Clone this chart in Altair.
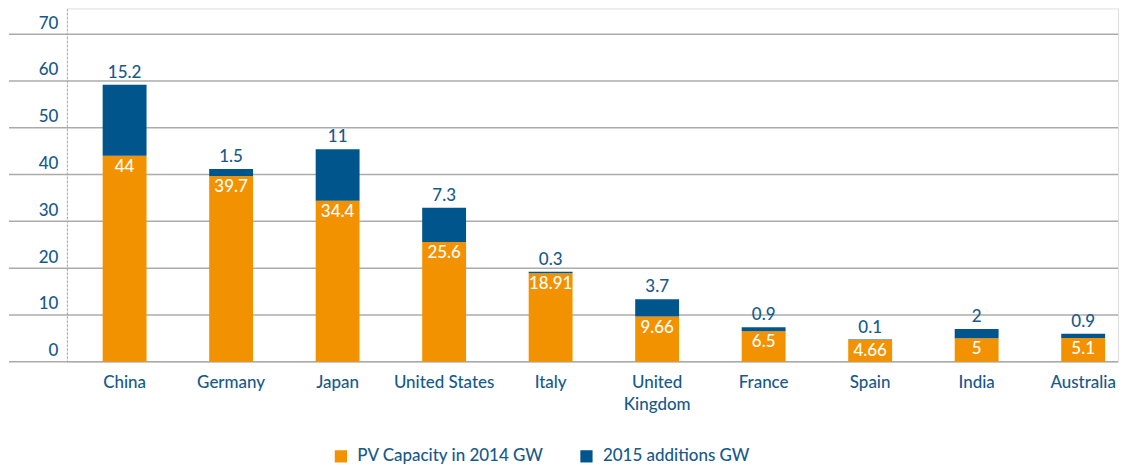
import altair as alt
import pandas as pd

countries = ["China", "Germany", "Japan", "United States", "Italy",
             "United Kingdom", "France", "Spain", "India", "Australia"]
pv_2014 = [44, 39.7, 34.4, 25.6, 18.91, 9.66, 6.5, 4.66, 5, 5.1]
add_2015 = [15.2, 1.5, 11, 7.3, 0.3, 3.7, 0.9, 0.1, 2, 0.9]
y_ticks = [0, 10, 20, 30, 40, 50, 60, 70]
series = ["PV Capacity in 2014 GW", "2015 additions GW"]

ORANGE = "#F39200"
BLUE = "#00558C"
TEXT = "#17598C"
FONT = "Lato"
WEIGHT = 500
FS = 17

W = 1053
H = 354

df = pd.DataFrame({
    "country": countries,
    "base": pv_2014,
    "add": add_2015,
    "total": [a + b for a, b in zip(pv_2014, add_2015)],
    "base_lbl": [str(v) for v in pv_2014],
    "add_lbl": [str(v) for v in add_2015],
    "s_base": [series[0]] * len(countries),
    "s_add": [series[1]] * len(countries),
})
grid_df = pd.DataFrame({"v": y_ticks})

x_enc = alt.X(
    "country:N", sort=countries, title=None,
    scale=alt.Scale(paddingInner=0.588, paddingOuter=0.2285, align=0.735),
    axis=alt.Axis(
        labelAngle=0, domain=False, ticks=False, labelPadding=13,
        labelFontSize=FS, labelColor=TEXT, labelFont=FONT, labelFontWeight=WEIGHT,
        labelLineHeight=22,
        labelExpr="datum.label == 'United Kingdom' ? ['United', 'Kingdom'] : datum.label",
    ),
)
y_scale = alt.Scale(domain=[0, 75.5], nice=False, zero=True)
color_scale = alt.Scale(domain=series, range=[ORANGE, BLUE])
legend = alt.Legend(
    title=None, orient="none", direction="horizontal", legendX=266, legendY=440,
    symbolType="square", symbolSize=150, symbolStrokeWidth=0, symbolOpacity=1,
    labelFontSize=FS, labelColor=TEXT, labelFont=FONT, labelFontWeight=WEIGHT,
    columnPadding=33, labelOffset=8, labelLimit=0,
)

grid = alt.Chart(grid_df).mark_rule(color="#ababab", strokeWidth=1.5).encode(
    y=alt.Y("v:Q", scale=y_scale, title=None,
            axis=alt.Axis(values=y_ticks, grid=False, ticks=False, domain=True,
                          domainColor="#9a9a9a", domainDash=[1.5, 2.5], domainWidth=1,
                          labelPadding=9, labelOffset=-11, labelFontSize=FS,
                          labelFontWeight=WEIGHT,
                          labelColor=TEXT, labelFont=FONT, labelBaseline="middle")),
    x=alt.value(-58),
    x2=alt.value(W),
)

bars_base = alt.Chart(df).mark_bar().encode(
    x=x_enc,
    y=alt.Y("base:Q", scale=y_scale),
    y2=alt.datum(0),
    color=alt.Color("s_base:N", scale=color_scale, legend=legend),
)
bars_add = alt.Chart(df).mark_bar().encode(
    x=x_enc,
    y=alt.Y("total:Q", scale=y_scale),
    y2="base:Q",
    color=alt.Color("s_add:N", scale=color_scale, legend=legend),
)
txt_base = alt.Chart(df).mark_text(
    color="white", fontSize=FS, font=FONT, fontWeight=WEIGHT, baseline="middle", dy=11
).encode(x=x_enc, y=alt.Y("base:Q", scale=y_scale), text="base_lbl:N")
txt_add = alt.Chart(df).mark_text(
    color=TEXT, fontSize=FS, font=FONT, fontWeight=WEIGHT, baseline="middle", dy=-12
).encode(x=x_enc, y=alt.Y("total:Q", scale=y_scale), text="add_lbl:N")

chart = alt.layer(grid, bars_base, bars_add, txt_base, txt_add).properties(
    width=W, height=H, padding=0
).configure_view(stroke=None).configure(font=FONT)

chart.save("out.html", embed_options={"renderer": "svg", "actions": False})
